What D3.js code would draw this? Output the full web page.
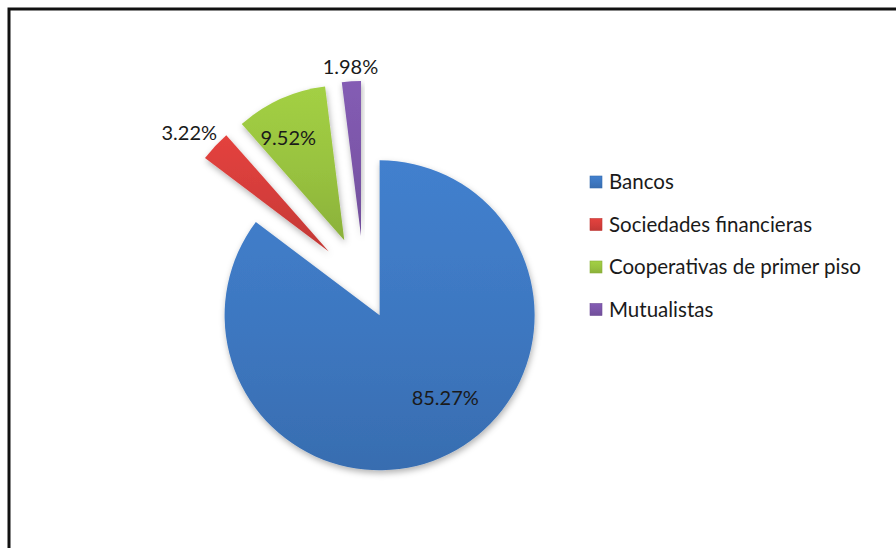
<!DOCTYPE html>
<html>
<head>
<meta charset="utf-8">
<script src="https://cdn.jsdelivr.net/npm/d3@7"></script>
<style>
  body { margin: 0; background: #fff; }
  svg { display: block; font-family: Lato, "Open Sans", sans-serif; }
</style>
</head>
<body>
<svg width="896" height="548"></svg>
<script>
(function () {
    // Data
    const categories = ["Bancos", "Sociedades financieras", "Cooperativas de primer piso", "Mutualistas"];
    const shares = [85.27, 3.22, 9.52, 1.98];
    const labels = ["85.27%", "3.22%", "9.52%", "1.98%"];

    const svg = d3.select("svg");

    // frame (only top and left edges are visible)
    svg.append("path")
        .attr("d", "M9,548 V9 H896")
        .attr("fill", "none")
        .attr("stroke", "#111")
        .attr("stroke-width", 3);

    // slice colours, explosion (px) and label placement per category
    const color = d3.scaleOrdinal()
        .domain(categories)
        .range(["#3d77c0", "#d43d3a", "#98c23f", "#7b56a8"]);
    const explode = { "Bancos": 35, "Sociedades financieras": 48, "Cooperativas de primer piso": 48, "Mutualistas": 48 };
    // [radius fraction, angle in degrees] relative to each slice apex
    const labelPos = {
        "Bancos": [0.68, 141.5],
        "Sociedades financieras": [1.18, 310.3],
        "Cooperativas de primer piso": [0.75, 331.2],
        "Mutualistas": [1.09, 356.4]
    };

    const cx = 364, cy = 284, radius = 155;

    const defs = svg.append("defs");
    const shadow = defs.append("filter").attr("id", "shadow")
        .attr("x", "-20%").attr("y", "-20%").attr("width", "140%").attr("height", "140%");
    shadow.append("feDropShadow")
        .attr("dx", 1).attr("dy", 3).attr("stdDeviation", 3)
        .attr("flood-color", "#000").attr("flood-opacity", 0.3);

    categories.forEach((c, i) => {
        const base = d3.color(color(c));
        const g = defs.append("linearGradient").attr("id", "grad" + i)
            .attr("x1", 0).attr("y1", 0).attr("x2", 0).attr("y2", 1);
        g.append("stop").attr("offset", "0%").attr("stop-color", base.brighter(0.2));
        g.append("stop").attr("offset", "55%").attr("stop-color", base);
        g.append("stop").attr("offset", "100%").attr("stop-color", base.darker(0.25));
    });

    const table = categories.map((c, i) => ({ name: c, value: shares[i], label: labels[i], idx: i }));

    const pie = d3.pie().sort(null).value(d => d.value);
    const arc = d3.arc().innerRadius(0).outerRadius(radius);
    const arcs = pie(table);

    const offset = d => {
        const a = (d.startAngle + d.endAngle) / 2;
        const e = explode[d.data.name];
        return [Math.sin(a) * e, -Math.cos(a) * e];
    };

    const slices = svg.append("g")
        .attr("transform", `translate(${cx},${cy})`);

    slices.selectAll("path")
        .data(arcs)
        .enter()
        .append("path")
        .attr("transform", d => `translate(${offset(d)})`)
        .attr("d", arc)
        .attr("fill", d => `url(#grad${d.data.idx})`)
        .attr("filter", "url(#shadow)");

    slices.selectAll("text")
        .data(arcs)
        .enter()
        .append("text")
        .attr("transform", d => {
            const p = labelPos[d.data.name];
            const a = p[1] * Math.PI / 180;
            const o = offset(d);
            const r = radius * p[0];
            return `translate(${o[0] + Math.sin(a) * r},${o[1] - Math.cos(a) * r})`;
        })
        .attr("text-anchor", "middle")
        .attr("dy", "0.35em")
        .style("font-size", "20px")
        .style("fill", "#1a1a1a")
        .text(d => d.data.label);

    // legend
    const legend = svg.append("g")
        .attr("transform", "translate(590, 182)");

    const rows = legend.selectAll("g")
        .data(categories)
        .enter()
        .append("g")
        .attr("transform", (d, i) => `translate(0, ${i * 42.5})`);

    rows.append("rect")
        .attr("x", 0)
        .attr("y", -6)
        .attr("width", 12)
        .attr("height", 12)
        .attr("fill", (d, i) => `url(#grad${i})`)
        .attr("stroke", (d) => d3.color(color(d)).darker(0.3))
        .attr("stroke-width", 0.6);

    rows.append("text")
        .attr("x", 19)
        .attr("dy", "0.35em")
        .style("font-size", "20.5px")
        .style("fill", "#1a1a1a")
        .text(d => d);
})();
</script>
</body>
</html>
